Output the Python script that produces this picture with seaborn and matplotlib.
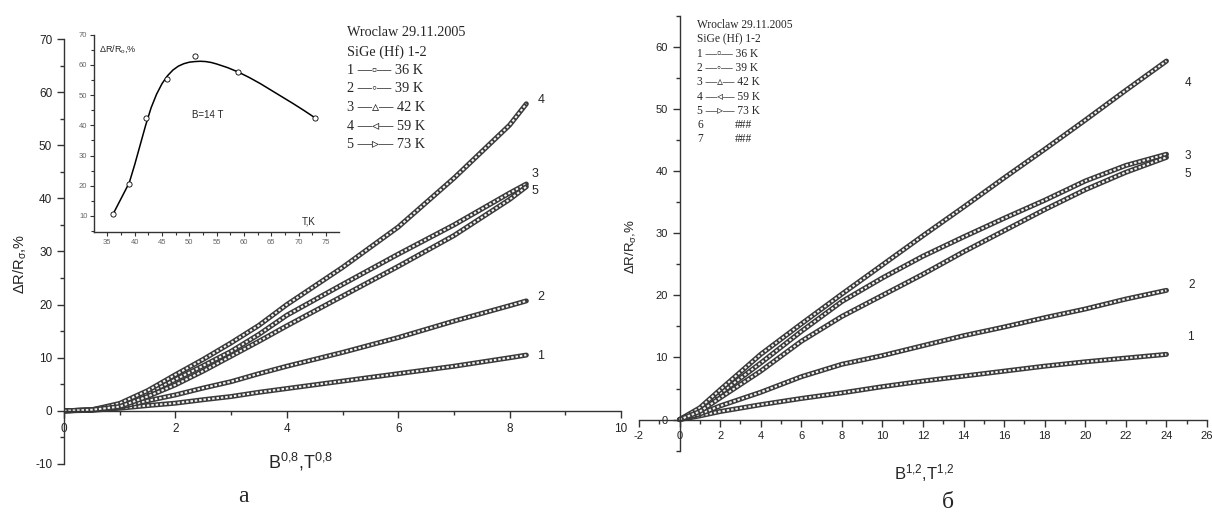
import numpy as np
import pandas as pd
import seaborn as sns
import matplotlib
matplotlib.use('Agg')
import matplotlib.pyplot as plt
from matplotlib.ticker import MultipleLocator

# ---------------- data ----------------
curve_ids = ['1', '2', '3', '4', '5']
temps = [36, 39, 42, 59, 73]

# panel a: x = B^0.8
xa = [0, 0.5, 1, 1.5, 2, 2.5, 3, 3.5, 4, 5, 6, 7, 8, 8.3]
ya_1 = [0, 0.1, 0.5, 1.0, 1.45, 2.1, 2.7, 3.5, 4.2, 5.6, 7.0, 8.4, 10.0, 10.5]
ya_2 = [0, 0.15, 0.7, 1.9, 3.0, 4.3, 5.5, 7.0, 8.4, 11.0, 13.8, 16.9, 19.8, 20.7]
ya_3 = [0, 0.2, 1.1, 3.3, 5.9, 8.5, 11.2, 14.4, 18.0, 23.8, 29.5, 35.0, 41.0, 42.7]
ya_4 = [0, 0.2, 1.4, 3.8, 6.8, 9.7, 12.8, 16.1, 20.0, 27.0, 34.6, 43.8, 53.8, 57.8]
ya_5 = [0, 0.2, 0.8, 2.7, 4.9, 7.5, 10.3, 13.1, 16.0, 21.6, 27.2, 33.0, 39.8, 42.2]

# panel б: x = B^1.2
xb = [0, 1, 2, 4, 6, 8, 10, 12, 14, 16, 18, 20, 22, 24]
yb_1 = [0, 0.6, 1.3, 2.4, 3.4, 4.3, 5.3, 6.2, 7.0, 7.8, 8.6, 9.3, 9.9, 10.5]
yb_2 = [0, 0.9, 2.2, 4.4, 6.9, 8.9, 10.3, 11.9, 13.5, 14.9, 16.4, 17.8, 19.4, 20.8]
yb_3 = [0, 1.6, 4.2, 9.1, 14.2, 19.0, 22.8, 26.3, 29.4, 32.4, 35.3, 38.4, 40.9, 42.7]
yb_4 = [0, 1.9, 4.8, 10.5, 15.4, 20.2, 24.9, 29.6, 34.2, 38.9, 43.5, 48.2, 53.0, 57.7]
yb_5 = [0, 1.3, 3.5, 7.8, 12.6, 16.6, 20.0, 23.4, 27.0, 30.4, 33.8, 37.0, 39.8, 42.2]

# inset: dR/R at B=14 T vs T
inset_t = [36, 39, 42, 46, 51, 59, 73]
inset_v = [10.5, 20.6, 42.4, 55.4, 62.8, 57.6, 42.4]
fit_t = [36, 37, 38, 39, 40, 41, 42, 43, 44, 45, 46, 47, 48, 49, 50, 51, 52,
         53, 54, 55, 57, 59, 61, 63, 65, 67, 69, 71, 73]
fit_v = [10.5, 14.0, 17.5, 21.0, 27.0, 33.5, 40.0, 45.8, 50.3, 53.8, 56.4,
         58.3, 59.6, 60.4, 60.9, 61.1, 61.2, 61.1, 60.8, 60.3, 59.1, 57.6,
         55.8, 53.8, 51.6, 49.4, 47.2, 44.9, 42.5]

df_a = pd.DataFrame({'x': xa * 5, 'y': ya_1 + ya_2 + ya_3 + ya_4 + ya_5,
                     'curve': np.repeat(curve_ids, len(xa))})
df_b = pd.DataFrame({'x': xb * 5, 'y': yb_1 + yb_2 + yb_3 + yb_4 + yb_5,
                     'curve': np.repeat(curve_ids, len(xb))})

# ---------------- style ----------------
sns.set_style('ticks')
plt.rcParams['font.family'] = ['Liberation Sans', 'DejaVu Sans']
plt.rcParams['mathtext.default'] = 'regular'
plt.rcParams['axes.unicode_minus'] = False
serif = ['Liberation Serif', 'DejaVu Sans']
axis_col = '#333333'

fig = plt.figure(figsize=(12.12, 5.16), dpi=100)
ax_a = fig.add_axes([0.0528, 0.1008, 0.4596, 0.8236])
ax_b = fig.add_axes([0.5272, 0.1266, 0.4687, 0.8430])
ax_in = fig.add_axes([0.0778, 0.5504, 0.2019, 0.3824])


def style_axes(ax, labelsize, major_len=5, minor_len=3):
    ax.spines[['top', 'right']].set_visible(False)
    ax.spines['left'].set_position(('data', 0))
    ax.spines['bottom'].set_position(('data', 0))
    for s in ['left', 'bottom']:
        ax.spines[s].set_color(axis_col)
        ax.spines[s].set_linewidth(1.0)
    ax.tick_params(which='major', direction='out', length=major_len, width=1,
                   labelsize=labelsize, color=axis_col, labelcolor='#222222')
    ax.tick_params(which='minor', direction='out', length=minor_len, width=1,
                   color=axis_col)
    ax.set_facecolor('none')


def draw_bands(ax, df):
    # chain of small open markers, drawn as a dark band with a dotted light core
    for c in curve_ids:
        d = df[df['curve'] == c]
        sns.lineplot(data=d, x='x', y='y', ax=ax, color='#3a3a3a', lw=3.6,
                     sort=False, estimator=None, legend=False)
        sns.lineplot(data=d, x='x', y='y', ax=ax, color='#f2f2f2', lw=1.5,
                     sort=False, estimator=None, legend=False,
                     dashes=False, linestyle=(0, (1.2, 0.9)))


# ---------------- panel a ----------------
draw_bands(ax_a, df_a)
ax_a.set_xlim(0, 10)
ax_a.set_ylim(-10, 70)
style_axes(ax_a, 8.5)
ax_a.xaxis.set_major_locator(MultipleLocator(2))
ax_a.xaxis.set_minor_locator(MultipleLocator(1))
ax_a.yaxis.set_major_locator(MultipleLocator(10))
ax_a.yaxis.set_minor_locator(MultipleLocator(5))
ax_a.set_xlabel(r'B$^{0{,}8}$,T$^{0{,}8}$', fontsize=13)
ax_a.xaxis.set_label_coords(0.424, 0.03)
ax_a.set_ylabel(r'$\Delta$R/R$_{\sigma}$,%', fontsize=10.5, color='#222222')
ax_a.yaxis.set_label_coords(-0.062, 0.47)

labels_a = [(8.5, 10.4, '1'), (8.5, 21.5, '2'), (8.4, 44.6, '3'),
            (8.5, 58.6, '4'), (8.4, 41.3, '5')]
for x, y, s in labels_a:
    ax_a.text(x, y, s, fontsize=9, ha='left', va='center')

legend_a = ['Wroclaw 29.11.2005', 'SiGe (Hf) 1-2']
marks = ['\u25ab', '\u25e6', '\u25b5', '\u25c3', '\u25b9']
for c, m, t in zip(curve_ids, marks, temps):
    legend_a.append(f'{c} \u2014{m}\u2014 {t} K')
for i, s in enumerate(legend_a):
    fig.text(347 / 1212, 1 - (33 + 18.6 * i) / 516, s, fontsize=10.3,
             family=serif, va='center', ha='left')

# ---------------- inset ----------------
sns.lineplot(x=fit_t, y=fit_v, ax=ax_in, color='black', lw=1.1, sort=False,
             estimator=None)
sns.scatterplot(x=inset_t, y=inset_v, ax=ax_in, marker='o', s=14,
                facecolor='white', edgecolor='black', linewidth=0.6, zorder=3)
ax_in.set_xlim(32.6, 77.4)
ax_in.set_ylim(4.7, 70)
ax_in.spines[['top', 'right']].set_visible(False)
for s in ['left', 'bottom']:
    ax_in.spines[s].set_color(axis_col)
    ax_in.spines[s].set_linewidth(1.0)
ax_in.tick_params(which='major', direction='out', length=3, width=0.8,
                  labelsize=5.5, color=axis_col, labelcolor='#666666', pad=2)
ax_in.tick_params(which='minor', direction='out', length=2, width=0.8,
                  color=axis_col)
ax_in.xaxis.set_major_locator(MultipleLocator(5))
ax_in.xaxis.set_minor_locator(MultipleLocator(2.5))
ax_in.yaxis.set_major_locator(MultipleLocator(10))
ax_in.yaxis.set_minor_locator(MultipleLocator(5))
ax_in.set_facecolor('none')
ax_in.set_xlabel('')
ax_in.set_ylabel('')
ax_in.text(33.5, 65.2, r'$\Delta$R/R$_{o}$,%', fontsize=6.5, ha='left',
           va='center')
ax_in.text(53.3, 43.5, 'B=14 T', fontsize=7, ha='center', va='center')
ax_in.text(71.8, 8.3, 'T,K', fontsize=7, ha='center', va='center')

# ---------------- panel б ----------------
draw_bands(ax_b, df_b)
ax_b.set_xlim(-2, 26)
ax_b.set_ylim(-5, 65)
style_axes(ax_b, 8)
ax_b.xaxis.set_major_locator(MultipleLocator(2))
ax_b.xaxis.set_minor_locator(MultipleLocator(1))
ax_b.yaxis.set_major_locator(MultipleLocator(10))
ax_b.yaxis.set_minor_locator(MultipleLocator(5))
ax_b.set_xlabel(r'B$^{1{,}2}$,T$^{1{,}2}$', fontsize=12)
ax_b.xaxis.set_label_coords(0.502, -0.026)
ax_b.set_ylabel(r'$\Delta$R/R$_{\sigma}$,%', fontsize=9.5, color='#222222')
ax_b.yaxis.set_label_coords(0.0, 0.47)

labels_b = [(25.0, 13.3, '1'), (25.1, 21.6, '2'), (24.9, 42.4, '3'),
            (24.9, 54.2, '4'), (24.9, 39.5, '5')]
for x, y, s in labels_b:
    ax_b.text(x, y, s, fontsize=8.5, ha='left', va='center')

legend_b = ['Wroclaw 29.11.2005', 'SiGe (Hf) 1-2']
for c, m, t in zip(curve_ids, marks, temps):
    legend_b.append(f'{c} \u2014{m}\u2014 {t} K')
legend_b += ['6', '7']
for i, s in enumerate(legend_b):
    fig.text(697 / 1212, 1 - (25 + 14.3 * i) / 516, s, fontsize=8.3,
             family=serif, va='center', ha='left')
for i in (7, 8):
    fig.text(735 / 1212, 1 - (25 + 14.3 * i) / 516, '###', fontsize=8.3,
             family=serif, va='center', ha='left')

# captions
fig.text(243 / 1212, 1 - 497 / 516, 'a', fontsize=17, family=serif,
         ha='center', va='center')
fig.text(948 / 1212, 1 - 502 / 516, '\u0431', fontsize=17, family=serif,
         ha='center', va='center')

fig.savefig('out.png', dpi=100)
